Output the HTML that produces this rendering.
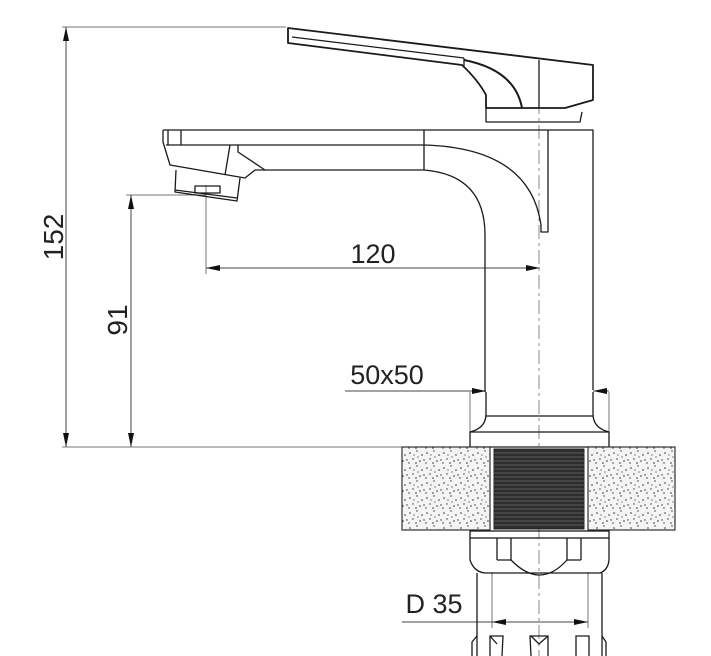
<!DOCTYPE html>
<html><head><style>
html,body{margin:0;padding:0;background:#fff;}
svg{display:block;}
text{font-family:"Liberation Sans",sans-serif;fill:#222;}
</style></head><body>
<svg width="711" height="656" viewBox="0 0 711 656" xmlns="http://www.w3.org/2000/svg">
<defs>
<pattern id="dots" width="17" height="15" patternUnits="userSpaceOnUse">
<rect width="17" height="15" fill="#f4f4f4"/>
<g fill="#333">
<circle cx="2" cy="3" r="0.8"/><circle cx="9" cy="1" r="0.7"/><circle cx="14" cy="5" r="0.8"/>
<circle cx="5" cy="9" r="0.7"/><circle cx="12" cy="11" r="0.8"/><circle cx="1" cy="13" r="0.7"/>
<circle cx="8" cy="13" r="0.8"/><circle cx="16" cy="10" r="0.7"/><circle cx="6" cy="5" r="0.6"/>
<circle cx="10" cy="7" r="0.6"/>
</g>
</pattern>
<marker id="a" viewBox="0 0 14 6" refX="14" refY="3" markerWidth="14" markerHeight="6" markerUnits="userSpaceOnUse" orient="auto-start-reverse">
<path d="M0,0 L14,3 L0,6 z" fill="#111"/>
</marker>
</defs>
<g stroke="#777" stroke-width="1" fill="none">
<line x1="62" y1="27" x2="286" y2="27"/>
<line x1="62" y1="447" x2="470" y2="447"/>
<line x1="126" y1="195" x2="206" y2="195"/>
<line x1="206" y1="185" x2="206" y2="274"/>
<line x1="470" y1="392" x2="470" y2="433"/>
<line x1="609" y1="392" x2="609" y2="433"/>
<line x1="492" y1="572" x2="492" y2="628"/>
<line x1="588" y1="572" x2="588" y2="628"/>
</g>
<g stroke="#444" stroke-width="1" fill="none">
<line x1="66" y1="27" x2="66" y2="447" marker-start="url(#a)" marker-end="url(#a)"/>
<line x1="131" y1="195" x2="131" y2="447" marker-start="url(#a)" marker-end="url(#a)"/>
<line x1="206" y1="268" x2="540" y2="268" marker-start="url(#a)" marker-end="url(#a)"/>
<line x1="345" y1="391" x2="486" y2="391" marker-end="url(#a)"/>
<line x1="609" y1="391" x2="593" y2="391" marker-end="url(#a)"/>
<line x1="402" y1="622" x2="492" y2="622"/>
<line x1="492" y1="622" x2="588" y2="622" marker-start="url(#a)" marker-end="url(#a)"/>
</g>
<line x1="539" y1="100" x2="539" y2="656" stroke="#888" stroke-width="1" stroke-dasharray="14,4,3,4"/>
<text x="373" y="263" font-size="27" text-anchor="middle">120</text>
<text x="387" y="384" font-size="27" text-anchor="middle">50x50</text>
<text x="434" y="613" font-size="27" text-anchor="middle">D 35</text>
<text transform="translate(63,237) rotate(-90)" font-size="28" text-anchor="middle">152</text>
<text transform="translate(127,320) rotate(-90)" font-size="28" text-anchor="middle">91</text>
<g stroke="#1a1a1a" stroke-width="1.3" fill="none" stroke-linejoin="round">
<path d="M288,28 L593,65 L593,100 L565,108 L486,108 L486,95 Q478,80 462,65 L288,43 Z" stroke-width="1.8"/>
<path d="M292,37 L464,58"/>
<path d="M464,58 L464,66"/>
<path d="M464,60 Q515,70 522,108" stroke-width="2"/>
<line x1="539" y1="60" x2="539" y2="108"/>
<path d="M486,108 L486,122 L580,122 L582,112"/>
<path d="M163,130 L593,130 L593,390"/>
<path d="M163,130 L163,142 L170,165 L245,178 L255,170 L424,170 Q485,175 485,235 L485,392"/>
<path d="M166,145 L424,145 Q530,148 541,225 L541,232 L548,232 L548,130"/>
<line x1="424" y1="130" x2="424" y2="170"/>
<line x1="168" y1="130" x2="168" y2="145"/>
<line x1="181" y1="130" x2="181" y2="145"/>
<path d="M230,145 L225,175 M238,145 L238,152 L265,170"/>
<path d="M176,170 L175,192 L237,201 L240,178"/>
<path d="M175,190 L237,198"/>
<rect x="195" y="186" width="25" height="7"/>
<path d="M486,392 L486,414 Q486,428 470,432 M593,392 L593,414 Q593,428 609,432"/>
<line x1="486" y1="416" x2="593" y2="416"/>
<rect x="470" y="432" width="139" height="15"/>
</g>
<rect x="402" y="447" width="88" height="83" fill="url(#dots)" stroke="#333" stroke-width="1.2"/>
<rect x="588" y="447" width="87" height="83" fill="url(#dots)" stroke="#333" stroke-width="1.2"/>
<rect x="494" y="449" width="90" height="80" fill="#2e2e2e" stroke="#222"/>
<g stroke="#6a6a6a" stroke-width="0.7">
<line x1="494" y1="453" x2="584" y2="453"/><line x1="494" y1="457" x2="584" y2="457"/><line x1="494" y1="461" x2="584" y2="461"/><line x1="494" y1="465" x2="584" y2="465"/><line x1="494" y1="469" x2="584" y2="469"/><line x1="494" y1="473" x2="584" y2="473"/><line x1="494" y1="477" x2="584" y2="477"/><line x1="494" y1="481" x2="584" y2="481"/><line x1="494" y1="485" x2="584" y2="485"/><line x1="494" y1="489" x2="584" y2="489"/><line x1="494" y1="493" x2="584" y2="493"/><line x1="494" y1="497" x2="584" y2="497"/><line x1="494" y1="501" x2="584" y2="501"/><line x1="494" y1="505" x2="584" y2="505"/><line x1="494" y1="509" x2="584" y2="509"/><line x1="494" y1="513" x2="584" y2="513"/><line x1="494" y1="517" x2="584" y2="517"/><line x1="494" y1="521" x2="584" y2="521"/><line x1="494" y1="525" x2="584" y2="525"/>
</g>
<g stroke="#1a1a1a" stroke-width="1.3" fill="none">
<rect x="470" y="531" width="139" height="7"/>
<path d="M470,538 L470,560 Q474,572 485,573 L600,573 Q608,570 609,560 L609,538"/>
<path d="M497,538 L497,560 M511,538 L511,560 L497,560 M567,538 L567,560 L581,560 M581,538 L581,560"/>
<path d="M511,560 Q540,590 567,560"/>
<path d="M477,573 L477,656 M602,573 L602,656"/>
<path d="M472,656 L472,642 L477,636 M606,656 L606,642 L602,636"/>
<path d="M490,656 L490,636 L503,636 L502,656 M531,656 L530,636 L548,636 L548,656 M576,656 L576,636 L589,636 L589,656"/>
<path d="M531,636 L539,644 L548,636 M490,636 L497,644"/>
</g>
</svg>
</body></html>
